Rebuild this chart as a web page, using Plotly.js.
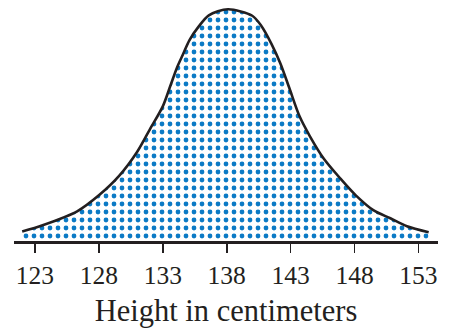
<!DOCTYPE html>
<html>
<head>
<meta charset="utf-8">
<script src="https://cdn.plot.ly/plotly-3.0.1.min.js"></script>
<style>html,body{margin:0;padding:0;background:#fff;}#chart{width:449px;height:328px;}</style>
</head>
<body>
<div id="chart"></div>
<script>
// Height in centimeters (x) and relative frequency (peak = 1)
const heights = [122.0, 123.6, 126.3, 128.0, 129.6, 131.0, 132.0, 133.0, 133.6, 134.1, 134.5, 135.1, 135.8, 136.6, 138.1, 140.0, 140.7, 141.5, 142.2, 142.9, 143.7, 144.5, 145.6, 146.9, 148.1, 149.5, 150.8, 152.1, 153.8];
const relFreq = [0.041, 0.068, 0.128, 0.197, 0.282, 0.385, 0.483, 0.581, 0.671, 0.747, 0.796, 0.868, 0.925, 0.974, 1.000, 0.972, 0.929, 0.851, 0.766, 0.660, 0.538, 0.453, 0.355, 0.269, 0.197, 0.132, 0.098, 0.064, 0.038];
const tickVals = [123, 128, 133, 138, 143, 148, 153];
const tickText = ['123', '128', '133', '138', '143', '148', '153'];
const xTitle = 'Height in centimeters';

const ink = '#231f20';
const blue = '#0b7ac5';
const serif = 'Liberation Serif, Times New Roman, serif';

const trace = {
  x: heights,
  y: relFreq,
  type: 'scatter',
  mode: 'lines',
  line: {color: ink, width: 2.6, shape: 'spline', smoothing: 0.8},
  fill: 'tozeroy',
  fillcolor: 'white',
  fillpattern: {shape: '.', fgcolor: blue, bgcolor: 'white', size: 8, solidity: 0.28},
  hoverinfo: 'skip'
};

const layout = {
  width: 449, height: 328,
  margin: {l: 14, r: 11, t: 0, b: 87},
  paper_bgcolor: 'white', plot_bgcolor: 'white',
  showlegend: false,
  font: {family: serif, color: ink},
  xaxis: {
    range: [121.36, 154.53],
    tickmode: 'array', tickvals: tickVals, ticktext: tickText,
    ticks: 'outside', ticklen: 9, tickwidth: 1.6, tickcolor: ink,
    showline: true, linecolor: ink, linewidth: 3,
    showgrid: false, zeroline: false,
    tickfont: {family: serif, size: 25.5, color: ink},
    title: {text: xTitle, font: {family: serif, size: 30.5, color: ink}, standoff: 19},
    automargin: false, fixedrange: true
  },
  yaxis: {
    range: [0, 1.04], visible: false, showgrid: false, zeroline: false, fixedrange: true
  }
};

Plotly.newPlot('chart', [trace], layout, {staticPlot: true, displayModeBar: false});
</script>
</body>
</html>
